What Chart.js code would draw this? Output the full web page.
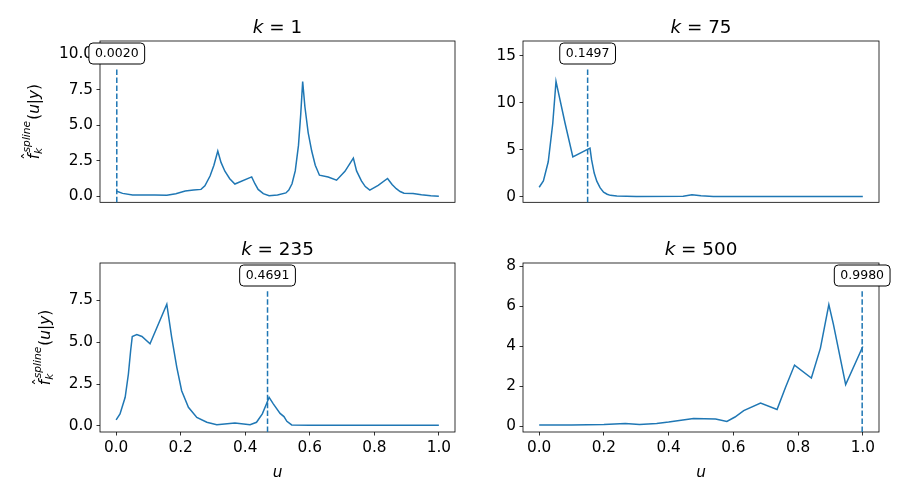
<!DOCTYPE html>
<html>
<head>
<meta charset="utf-8">
<script src="https://cdn.jsdelivr.net/npm/chart.js@4/dist/chart.umd.min.js"></script>
<style>
  html, body { margin: 0; padding: 0; background: #fff; }
  #wrap { position: relative; width: 900px; height: 500px; overflow: hidden; }
  canvas { position: absolute; }
</style>
</head>
<body>
<div id="wrap">
  <canvas id="c0" width="465" height="215" style="left:0;top:0"></canvas>
  <canvas id="c1" width="435" height="215" style="left:465px;top:0"></canvas>
  <canvas id="c2" width="465" height="282" style="left:0;top:218px"></canvas>
  <canvas id="c3" width="435" height="282" style="left:465px;top:218px"></canvas>
</div>
<script>
// k values shown in the titles
const kValues = ['1', '75', '235', '500'];
// u where the dashed line sits
const markers = [0.0020, 0.1497, 0.4691, 0.9980];

// k = 1
const u1 = [0, 0.02, 0.051, 0.08, 0.12, 0.157, 0.185, 0.214, 0.24, 0.263, 0.275, 0.291, 0.303, 0.315, 0.325, 0.337, 0.352, 0.368, 0.42, 0.43, 0.44, 0.456, 0.474, 0.5, 0.526, 0.535, 0.545, 0.555, 0.565, 0.572, 0.578, 0.585, 0.595, 0.606, 0.617, 0.63, 0.657, 0.683, 0.709, 0.735, 0.745, 0.76, 0.772, 0.786, 0.812, 0.841, 0.855, 0.868, 0.88, 0.892, 0.92, 0.946, 0.975, 1.0];
const f1 = [0.39, 0.22, 0.11, 0.11, 0.1, 0.08, 0.2, 0.39, 0.45, 0.5, 0.75, 1.44, 2.2, 3.2, 2.4, 1.78, 1.25, 0.88, 1.38, 0.9, 0.5, 0.2, 0.05, 0.1, 0.25, 0.45, 0.9, 1.8, 3.6, 5.8, 8.1, 6.3, 4.5, 3.2, 2.2, 1.5, 1.37, 1.15, 1.77, 2.7, 1.8, 1.1, 0.7, 0.45, 0.78, 1.27, 0.85, 0.55, 0.35, 0.23, 0.21, 0.12, 0.05, 0.02];

// k = 75
const u2 = [0, 0.013, 0.028, 0.042, 0.052, 0.08, 0.104, 0.157, 0.162, 0.17, 0.178, 0.188, 0.199, 0.21, 0.22, 0.24, 0.27, 0.3, 0.445, 0.472, 0.5, 0.538, 0.7, 1.0];
const f2 = [0.99, 1.67, 3.7, 7.8, 12.25, 7.8, 4.23, 5.15, 3.9, 2.5, 1.64, 0.95, 0.47, 0.25, 0.13, 0.06, 0.03, 0.02, 0.03, 0.2, 0.08, 0.02, 0.01, 0.0];

// k = 235
const u3 = [0, 0.012, 0.028, 0.038, 0.045, 0.05, 0.064, 0.08, 0.105, 0.157, 0.172, 0.188, 0.203, 0.224, 0.25, 0.281, 0.312, 0.368, 0.415, 0.435, 0.453, 0.466, 0.474, 0.487, 0.508, 0.52, 0.529, 0.544, 0.6, 1.0];
const f3 = [0.36, 0.72, 1.71, 3.1, 4.5, 5.34, 5.45, 5.34, 4.9, 7.26, 5.3, 3.5, 2.1, 1.11, 0.51, 0.22, 0.08, 0.18, 0.08, 0.22, 0.72, 1.32, 1.71, 1.32, 0.75, 0.56, 0.28, 0.06, 0.04, 0.04];

// k = 500
const u4 = [0, 0.1, 0.2, 0.266, 0.31, 0.363, 0.4, 0.477, 0.545, 0.58, 0.605, 0.632, 0.684, 0.735, 0.761, 0.789, 0.841, 0.869, 0.895, 0.909, 0.947, 1.0];
const f4 = [0.05, 0.05, 0.07, 0.13, 0.08, 0.13, 0.2, 0.38, 0.35, 0.23, 0.45, 0.77, 1.15, 0.83, 1.93, 3.05, 2.4, 3.9, 6.08, 5.1, 2.07, 3.98];

const uSeries = [u1, u2, u3, u4];
const fSeries = [f1, f2, f3, f4];

// tick labels
const xTicks = [0, 0.2, 0.4, 0.6, 0.8, 1.0];
const yTicks = [[0, 2.5, 5, 7.5, 10], [0, 5, 10, 15], [0, 2.5, 5, 7.5], [0, 2, 4, 6, 8]];
const yDecimals = [1, 0, 1, 0];
const yLimits = [[-0.41, 10.95], [-0.61, 16.55], [-0.36, 9.72], [-0.3, 8.16]];

const BLUE = '#1f77b4';
const FONT = '"DejaVu Sans"';
const BASE = 15.3;

// plot box inside each canvas
const boxes = [
  { yW: 100, padR: 10, top: 41, xH: 6, labelX: 39 },
  { yW: 58, padR: 21, top: 41, xH: 6, labelX: null },
  { yW: 100, padR: 10, top: 45, xH: 68, labelX: 50 },
  { yW: 58, padR: 21, top: 45, xH: 68, labelX: null }
];

Chart.defaults.color = '#000';
Chart.defaults.font.family = FONT;

function pieces(ctx, parts) {
  // parts: [text, font, dx, dy, noAdvance]
  let x = 0;
  const out = [];
  parts.forEach(p => {
    ctx.font = p[1];
    const w = ctx.measureText(p[0]).width;
    out.push({ t: p[0], font: p[1], x: x + (p[2] || 0), y: p[3] || 0, w });
    if (!p[4]) x += w + (p[2] || 0);
  });
  return { list: out, width: x };
}

function drawTitle(ctx, text, cx, baseline) {
  const S = BASE * 1.2;
  const it = `italic ${S}px ${FONT}`, up = `${S}px ${FONT}`;
  const p = pieces(ctx, [['k', it], [' = ', up], [text, up]]);
  ctx.save();
  ctx.fillStyle = '#000';
  ctx.textBaseline = 'alphabetic';
  ctx.textAlign = 'left';
  p.list.forEach(q => { ctx.font = q.font; ctx.fillText(q.t, cx - p.width / 2 + q.x, baseline + q.y); });
  ctx.restore();
}

function drawYLabel(ctx, x, yc) {
  const S = BASE, s = BASE * 0.7;
  const it = `italic ${S}px ${FONT}`, up = `${S}px ${FONT}`, its = `italic ${s}px ${FONT}`;
  ctx.save();
  ctx.font = it;
  const fw = ctx.measureText('f').width;
  ctx.font = its;
  const kw = ctx.measureText('k').width, sw = ctx.measureText('spline').width;
  const p = pieces(ctx, [
    ['f', it],
    ['k', its, 0, S * 0.22, true],
    ['spline', its, 1.5, -S * 0.56, true],
    ['', up, Math.max(kw, sw + 1.5) + 1],
    ['(', up], ['u', it], ['|', up], ['y', it], [')', up]
  ]);
  ctx.translate(x, yc);
  ctx.rotate(-Math.PI / 2);
  ctx.fillStyle = '#000';
  ctx.textBaseline = 'alphabetic';
  ctx.textAlign = 'left';
  const x0 = -p.width / 2;
  p.list.forEach(q => { ctx.font = q.font; ctx.fillText(q.t, x0 + q.x, q.y); });
  // hat over the f
  ctx.font = `${S}px ${FONT}`;
  ctx.textAlign = 'center';
  ctx.fillText('\u02C6', x0 + fw * 0.6, -S * 0.3);
  ctx.restore();
}

function drawMarker(chart, u) {
  const ctx = chart.ctx, area = chart.chartArea;
  const x = chart.scales.x.getPixelForValue(u);
  ctx.save();
  ctx.strokeStyle = BLUE;
  ctx.lineWidth = 1.5;
  ctx.setLineDash([5.55, 2.4]);
  ctx.beginPath();
  ctx.moveTo(x, area.bottom);
  ctx.lineTo(x, area.top + 27);
  ctx.stroke();
  ctx.setLineDash([]);
  const label = u.toFixed(4);
  ctx.font = `12.5px ${FONT}`;
  const w = ctx.measureText(label).width + 12, h = 21;
  const bx = x - w / 2, by = area.top + 2;
  ctx.beginPath();
  ctx.roundRect(bx, by, w, h, 4);
  ctx.fillStyle = '#fff';
  ctx.fill();
  ctx.strokeStyle = '#000';
  ctx.lineWidth = 1;
  ctx.stroke();
  ctx.fillStyle = '#000';
  ctx.textAlign = 'center';
  ctx.textBaseline = 'middle';
  ctx.fillText(label, x, by + h / 2 + 0.5);
  ctx.restore();
}

function makePanel(i) {
  const b = boxes[i];
  const bottomRow = i >= 2;
  const pts = uSeries[i].map((u, j) => ({ x: u, y: fSeries[i][j] }));
  const decorate = {
    id: 'decorate' + i,
    afterDraw(chart) {
      const ctx = chart.ctx, area = chart.chartArea;
      ctx.save();
      ctx.strokeStyle = '#000';
      ctx.lineWidth = 0.8;
      ctx.strokeRect(area.left, area.top, area.right - area.left, area.bottom - area.top);
      ctx.restore();
      drawMarker(chart, markers[i]);
      drawTitle(ctx, kValues[i], (area.left + area.right) / 2, area.top - 8.5);
      if (b.labelX !== null) drawYLabel(ctx, b.labelX, (area.top + area.bottom) / 2);
      if (bottomRow) {
        ctx.save();
        ctx.font = `italic ${BASE}px ${FONT}`;
        ctx.fillStyle = '#000';
        ctx.textAlign = 'center';
        ctx.textBaseline = 'alphabetic';
        ctx.fillText('u', (area.left + area.right) / 2, area.bottom + 45);
        ctx.restore();
      }
    }
  };

  new Chart(document.getElementById('c' + i), {
    type: 'line',
    data: {
      datasets: [{
        data: pts,
        borderColor: BLUE,
        borderWidth: 1.5,
        pointRadius: 0,
        tension: 0,
        fill: false
      }]
    },
    options: {
      responsive: false,
      animation: false,
      devicePixelRatio: 1,
      layout: { padding: { left: 0, right: b.padR, top: b.top, bottom: bottomRow ? 0 : b.xH } },
      plugins: { legend: { display: false }, tooltip: { enabled: false }, title: { display: false } },
      scales: {
        x: {
          type: 'linear',
          display: bottomRow,
          min: -0.05,
          max: 1.05,
          afterBuildTicks: s => { s.ticks = xTicks.map(v => ({ value: v })); },
          afterFit: s => { s.height = b.xH; },
          grid: { drawOnChartArea: false, drawTicks: true, tickLength: 3.5, color: '#000', lineWidth: 0.8 },
          border: { display: false },
          ticks: { autoSkip: false, maxRotation: 0, padding: 3.5, font: { size: BASE }, callback: v => v.toFixed(1) }
        },
        y: {
          type: 'linear',
          min: yLimits[i][0],
          max: yLimits[i][1],
          afterBuildTicks: s => { s.ticks = yTicks[i].map(v => ({ value: v })); },
          afterFit: s => { s.width = b.yW; },
          grid: { drawOnChartArea: false, drawTicks: true, tickLength: 3.5, color: '#000', lineWidth: 0.8 },
          border: { display: false },
          ticks: { padding: 3.5, font: { size: BASE }, callback: v => v.toFixed(yDecimals[i]) }
        }
      }
    },
    plugins: [decorate]
  });
}

[0, 1, 2, 3].forEach(makePanel);
</script>
</body>
</html>
